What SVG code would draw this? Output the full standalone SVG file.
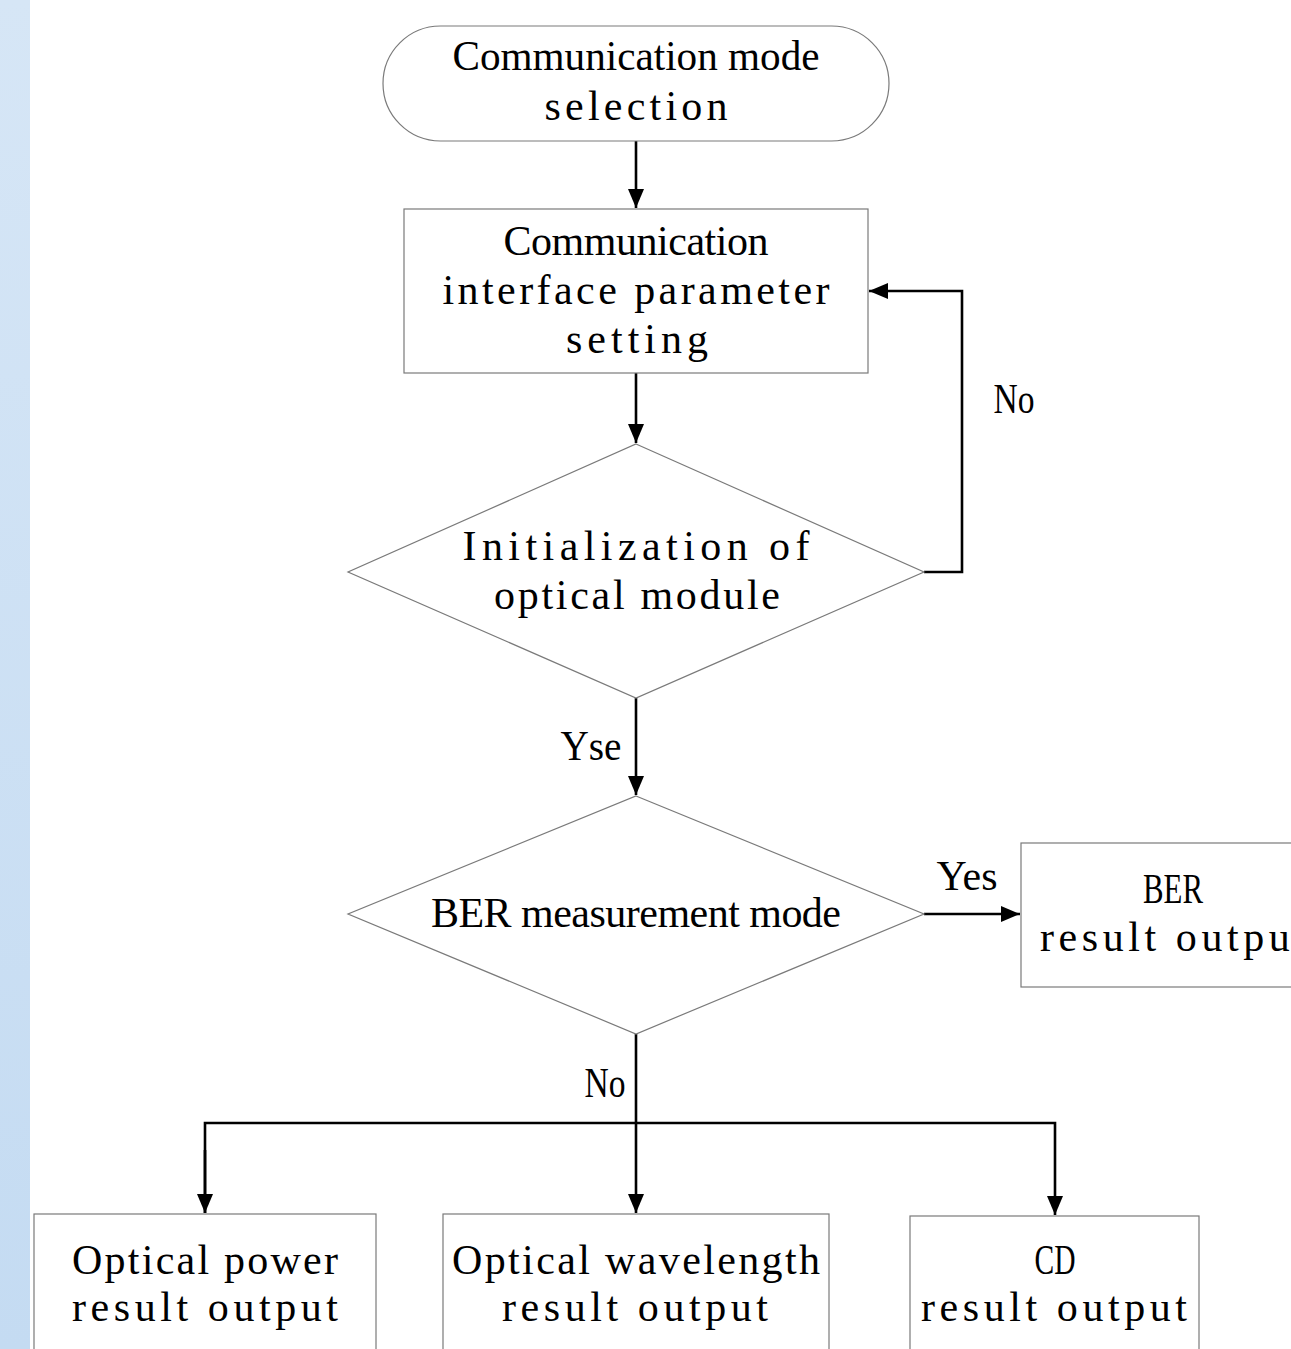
<svg xmlns="http://www.w3.org/2000/svg" width="1291" height="1349" viewBox="0 0 1291 1349">
  <style>
    .node { fill: #ffffff; stroke: #7a7a7a; stroke-width: 1.2; }
    .conn { fill: none; stroke: #000000; stroke-width: 2.6; }
    text { font-family: "Liberation Serif", "Times New Roman", serif; font-size: 42px; fill: #000000; text-anchor: middle; }
  </style>
  <defs>
    <linearGradient id="strip" x1="0" y1="0" x2="0" y2="1">
      <stop offset="0" stop-color="#d6e6f6"/>
      <stop offset="1" stop-color="#c4dbf2"/>
    </linearGradient>
    <marker id="arrow" markerUnits="userSpaceOnUse" markerWidth="20" markerHeight="16" refX="19" refY="8" orient="auto">
      <path d="M0,0 L19,8 L0,16 Z" fill="#000000"/>
    </marker>
  </defs>

  <rect x="0" y="0" width="1291" height="1349" fill="#ffffff"/>
  <rect x="0" y="0" width="30" height="1349" fill="url(#strip)"/>

  <g id="connectors">
    <line class="conn" x1="636" y1="141" x2="636" y2="208" marker-end="url(#arrow)"/>
    <line class="conn" x1="636" y1="373" x2="636" y2="443" marker-end="url(#arrow)"/>
    <polyline class="conn" points="924,572 962,572 962,291 869,291" marker-end="url(#arrow)"/>
    <line class="conn" x1="636" y1="698" x2="636" y2="795" marker-end="url(#arrow)"/>
    <line class="conn" x1="924" y1="914" x2="1020" y2="914" marker-end="url(#arrow)"/>
    <line class="conn" x1="636" y1="1034" x2="636" y2="1213" marker-end="url(#arrow)"/>
    <polyline class="conn" points="205,1213 205,1123 1055,1123 1055,1215" marker-end="url(#arrow)"/>
    <line class="conn" x1="205" y1="1150" x2="205" y2="1213" marker-end="url(#arrow)"/>
    <text x="1014" y="413" textLength="41" lengthAdjust="spacingAndGlyphs">No</text>
    <text x="591" y="760" textLength="61" lengthAdjust="spacingAndGlyphs">Yse</text>
    <text x="967" y="890" textLength="61" lengthAdjust="spacingAndGlyphs">Yes</text>
    <text x="605" y="1097" textLength="41" lengthAdjust="spacingAndGlyphs">No</text>
  </g>

  <g id="start">
    <rect class="node" x="383" y="26" width="506" height="115" rx="57.5" ry="57.5"/>
    <text x="636" y="70" textLength="367" lengthAdjust="spacingAndGlyphs">Communication mode</text>
    <text x="636" y="120" textLength="183" lengthAdjust="spacing">selection</text>
  </g>

  <g id="param">
    <rect class="node" x="404" y="209" width="464" height="164"/>
    <text x="636" y="255" textLength="265" lengthAdjust="spacing">Communication</text>
    <text x="636" y="304" textLength="387" lengthAdjust="spacing">interface parameter</text>
    <text x="637" y="353" textLength="142" lengthAdjust="spacing">setting</text>
  </g>

  <g id="init">
    <polygon class="node" points="636,444 924,572 636,698 348,572"/>
    <text x="636" y="560" textLength="347" lengthAdjust="spacing">Initialization of</text>
    <text x="637" y="609" textLength="286" lengthAdjust="spacing">optical module</text>
  </g>

  <g id="ber-mode">
    <polygon class="node" points="636,796 924,914 636,1034 348,914"/>
    <text x="636" y="927" textLength="410" lengthAdjust="spacing">BER measurement mode</text>
  </g>

  <g id="ber-out">
    <rect class="node" x="1021" y="843" width="304" height="144"/>
    <text x="1173" y="903" textLength="60" lengthAdjust="spacingAndGlyphs">BER</text>
    <text x="1173" y="951" textLength="266" lengthAdjust="spacing">result output</text>
  </g>

  <g id="power-out">
    <rect class="node" x="34" y="1214" width="342" height="150"/>
    <text x="205" y="1274" textLength="266" lengthAdjust="spacing">Optical power</text>
    <text x="205" y="1321" textLength="266" lengthAdjust="spacing">result output</text>
  </g>

  <g id="wave-out">
    <rect class="node" x="443" y="1214" width="386" height="150"/>
    <text x="636" y="1274" textLength="368" lengthAdjust="spacing">Optical wavelength</text>
    <text x="635" y="1321" textLength="266" lengthAdjust="spacing">result output</text>
  </g>

  <g id="cd-out">
    <rect class="node" x="910" y="1216" width="289" height="150"/>
    <text x="1055" y="1274" textLength="41" lengthAdjust="spacingAndGlyphs">CD</text>
    <text x="1054" y="1321" textLength="266" lengthAdjust="spacing">result output</text>
  </g>
</svg>
